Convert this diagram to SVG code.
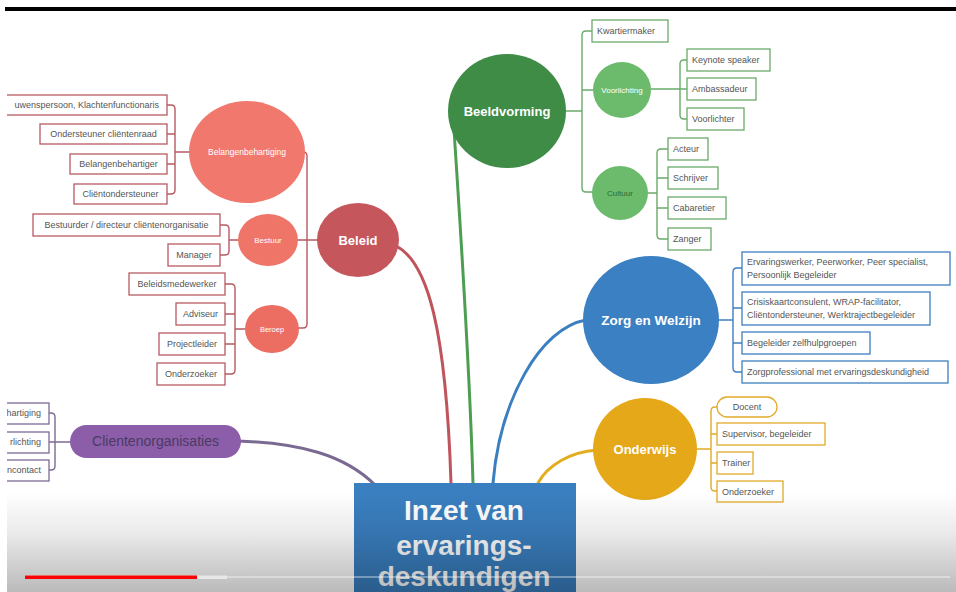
<svg xmlns="http://www.w3.org/2000/svg" width="956" height="592" viewBox="0 0 956 592">
<defs>
<style>
.t{font-family:"Liberation Sans",Arial,sans-serif;font-size:9px;fill:#555}
.tm{text-anchor:middle}
.te{text-anchor:end}
.c{font-family:"Liberation Sans",Arial,sans-serif;fill:#fff;text-anchor:middle}
.b{font-weight:bold}
.br{fill:none;stroke-width:1.4;stroke-linecap:round;stroke-linejoin:round}
.box{fill:#fff;stroke-width:1.3}
.red{stroke:#b65a62}
.grn{stroke:#6aaa6a}
.blu{stroke:#3c7fbf}
.gld{stroke:#e2aa2a}
.pur{stroke:#7d6a95}
.main{fill:none;stroke-width:3;stroke-linecap:round}
</style>
<linearGradient id="shade" x1="0" y1="0" x2="0" y2="1">
<stop offset="0" stop-color="#000" stop-opacity="0"/>
<stop offset="0.4" stop-color="#000" stop-opacity="0.08"/>
<stop offset="1" stop-color="#000" stop-opacity="0.27"/>
</linearGradient>
</defs>
<rect x="0" y="0" width="956" height="592" fill="#fff"/>

<g id="connectors">
<path class="main" stroke="#c0545c" d="M396 246 C428 262 446 330 451 483"/>
<path class="main" stroke="#4e9e52" d="M454 130 C462 250 470 380 473 483"/>
<path class="main" stroke="#3b7fc0" d="M586 320 C540 328 500 400 493 483"/>
<path class="main" stroke="#e3ad1e" d="M597 450 C570 452 548 465 538 483"/>
<path class="main" stroke="#7a6a92" stroke-width="2" d="M238 441 C300 443 345 455 375 485"/>
<path class="br red" d="M303 152 Q307 152 307 156 V324 Q307 328 303 328 H298 M297 240 H318"/>
<path class="br red" d="M167 105 H171 Q175 105 175 109 V190 Q175 194 171 194 H167 M167 134 H175 M167 164 H175 M175 152 H189"/>
<path class="br red" d="M220 225 H225 Q229 225 229 229 V251 Q229 255 225 255 H220 M229 240 H238"/>
<path class="br red" d="M225 284 H231 Q235 284 235 288 V370 Q235 374 231 374 H225 M225 314 H235 M225 344 H235 M235 329 H245"/>
<path class="br pur" d="M49 413 H51 Q55 413 55 417 V466 Q55 470 51 470 H49 M49 442 H70"/>
<path class="br grn" d="M592 31 H586 Q582 31 582 35 V188 Q582 192 586 192 H592 M566 111 H582 M582 90 H593"/>
<path class="br grn" d="M687 60 H684 Q680 60 680 64 V115 Q680 119 684 119 H687 M651 89 H687"/>
<path class="br grn" d="M668 149 H661 Q657 149 657 153 V235 Q657 239 661 239 H668 M657 178 H668 M657 208 H668 M648 193 H657"/>
<path class="br blu" d="M742 268 H737 Q733 268 733 272 V368 Q733 372 737 372 H742 M733 308 H742 M733 343 H742 M719 320 H733"/>
<path class="br gld" d="M717 407 H715 Q711 407 711 411 V487 Q711 491 715 491 H717 M711 434 H717 M711 463 H717 M697 449 H711"/>
</g>

<g id="beleid">
<ellipse cx="358" cy="240" rx="41" ry="37" fill="#c4565c"/>
<text class="c b" x="358" y="245" font-size="13">Beleid</text>
</g>
<g id="belangenbehartiging">
<ellipse cx="247" cy="152" rx="58" ry="51" fill="#f0786d"/>
<text class="c" x="247" y="155" font-size="8.5">Belangenbehartiging</text>
</g>
<g id="bestuur">
<ellipse cx="268" cy="240" rx="30" ry="26" fill="#ef7569"/>
<text class="c" x="268" y="243" font-size="8">Bestuur</text>
</g>
<g id="beroep">
<ellipse cx="272" cy="329" rx="27" ry="24" fill="#ec6e63"/>
<text class="c" x="272" y="332" font-size="7.5">Beroep</text>
</g>
<g id="r1"><rect class="box red" x="-10" y="95" width="177" height="20"/><text class="t te" x="159" y="108">uwenspersoon, Klachtenfunctionaris</text></g>
<g id="r2"><rect class="box red" x="40" y="124" width="127" height="20"/><text class="t tm" x="103.5" y="137">Ondersteuner cliëntenraad</text></g>
<g id="r3"><rect class="box red" x="70" y="154" width="97" height="20"/><text class="t tm" x="118.5" y="167">Belangenbehartiger</text></g>
<g id="r4"><rect class="box red" x="74" y="184" width="93" height="20"/><text class="t tm" x="120.5" y="197">Cliëntondersteuner</text></g>
<g id="r5"><rect class="box red" x="33" y="214" width="187" height="22"/><text class="t tm" x="126.5" y="228">Bestuurder / directeur cliëntenorganisatie</text></g>
<g id="r6"><rect class="box red" x="168" y="244" width="52" height="22"/><text class="t tm" x="194" y="258">Manager</text></g>
<g id="r7"><rect class="box red" x="129" y="273" width="96" height="22"/><text class="t tm" x="177" y="287">Beleidsmedewerker</text></g>
<g id="r8"><rect class="box red" x="176" y="303" width="49" height="22"/><text class="t tm" x="200.5" y="317">Adviseur</text></g>
<g id="r9"><rect class="box red" x="159" y="333" width="66" height="22"/><text class="t tm" x="192" y="347">Projectleider</text></g>
<g id="r10"><rect class="box red" x="157" y="363" width="68" height="22"/><text class="t tm" x="191" y="377">Onderzoeker</text></g>

<g id="clientenorganisaties">
<rect x="70" y="425" width="171" height="33" rx="16.5" fill="#8c5ea9"/>
<text x="155.5" y="446" font-family="Liberation Sans, Arial, sans-serif" font-size="14" fill="#4b3a62" text-anchor="middle">Clientenorganisaties</text>
</g>
<g id="p1"><rect class="box pur" x="-10" y="403" width="59" height="21"/><text class="t te" x="41" y="416">hartiging</text></g>
<g id="p2"><rect class="box pur" x="-10" y="432" width="59" height="21"/><text class="t te" x="41" y="445">rlichting</text></g>
<g id="p3"><rect class="box pur" x="-10" y="460" width="59" height="21"/><text class="t te" x="41" y="473">ncontact</text></g>

<g id="beeldvorming">
<ellipse cx="507" cy="111" rx="59" ry="57" fill="#3e8c46"/>
<text class="c b" x="507" y="116" font-size="13">Beeldvorming</text>
</g>
<g id="voorlichting">
<ellipse cx="622" cy="90" rx="29" ry="28" fill="#6cbb6c"/>
<text class="c" x="622" y="93" font-size="8" fill="#e3f2d6">Voorlichting</text>
</g>
<g id="cultuur">
<ellipse cx="620" cy="193" rx="28" ry="27" fill="#6cbb6c"/>
<text x="620" y="196" font-family="Liberation Sans, Arial, sans-serif" font-size="8" fill="#2e6a30" text-anchor="middle">Cultuur</text>
</g>
<g id="g1"><rect class="box grn" x="592" y="20" width="76" height="22"/><text class="t" x="597" y="34">Kwartiermaker</text></g>
<g id="g2"><rect class="box grn" x="687" y="49" width="83" height="22"/><text class="t" x="692" y="63">Keynote speaker</text></g>
<g id="g3"><rect class="box grn" x="687" y="78" width="69" height="22"/><text class="t" x="692" y="92">Ambassadeur</text></g>
<g id="g4"><rect class="box grn" x="687" y="108" width="57" height="22"/><text class="t" x="692" y="122">Voorlichter</text></g>
<g id="g5"><rect class="box grn" x="668" y="138" width="40" height="22"/><text class="t" x="673" y="152">Acteur</text></g>
<g id="g6"><rect class="box grn" x="668" y="167" width="50" height="22"/><text class="t" x="673" y="181">Schrijver</text></g>
<g id="g7"><rect class="box grn" x="668" y="197" width="58" height="22"/><text class="t" x="673" y="211">Cabaretier</text></g>
<g id="g8"><rect class="box grn" x="668" y="228" width="43" height="22"/><text class="t" x="673" y="242">Zanger</text></g>

<g id="zorg">
<ellipse cx="651" cy="320" rx="68" ry="64" fill="#3b80c2"/>
<text class="c b" x="651" y="325" font-size="13.5">Zorg en Welzijn</text>
</g>
<g id="z1"><rect class="box blu" x="742" y="252" width="208" height="33"/><text class="t" x="747" y="265">Ervaringswerker, Peerworker, Peer specialist,</text><text class="t" x="747" y="278">Persoonlijk Begeleider</text></g>
<g id="z2"><rect class="box blu" x="742" y="292" width="188" height="33"/><text class="t" x="747" y="305">Crisiskaartconsulent, WRAP-facilitator,</text><text class="t" x="747" y="318">Cliëntondersteuner, Werktrajectbegeleider</text></g>
<g id="z3"><rect class="box blu" x="742" y="332" width="128" height="22"/><text class="t" x="747" y="346">Begeleider zelfhulpgroepen</text></g>
<g id="z4"><rect class="box blu" x="742" y="361" width="206" height="22"/><text class="t" x="747" y="375">Zorgprofessional met ervaringsdeskundigheid</text></g>

<g id="onderwijs">
<ellipse cx="645" cy="449" rx="52" ry="51" fill="#e5a818"/>
<text class="c b" x="645" y="454" font-size="13">Onderwijs</text>
</g>
<g id="o1"><rect class="box gld" x="717" y="397" width="60" height="20" rx="10"/><text class="t tm" x="747" y="410">Docent</text></g>
<g id="o2"><rect class="box gld" x="717" y="423" width="108" height="22"/><text class="t" x="722" y="437">Supervisor, begeleider</text></g>
<g id="o3"><rect class="box gld" x="717" y="452" width="36" height="22"/><text class="t" x="722" y="466">Trainer</text></g>
<g id="o4"><rect class="box gld" x="717" y="481" width="66" height="21"/><text class="t" x="722" y="495">Onderzoeker</text></g>

<g id="center">
<rect x="354" y="483" width="222" height="115" fill="#3a7fc0"/>
<text class="c b" x="464" y="520" font-size="28">Inzet van</text>
<text class="c b" x="464" y="555" font-size="28">ervarings-</text>
<text class="c b" x="464" y="586" font-size="28">deskundigen</text>
</g>

<rect x="0" y="0" width="7" height="592" fill="#fff"/>
<rect x="5" y="7" width="951" height="4" fill="#000"/>
<rect x="7" y="492" width="949" height="100" fill="url(#shade)"/>
<rect x="25" y="576" width="925" height="2" fill="#fff" opacity="0.35"/>
<rect x="25" y="575.5" width="202" height="3.5" fill="#e8e8e8"/>
<rect x="25" y="575.5" width="172" height="3.5" fill="#f00"/>
</svg>
